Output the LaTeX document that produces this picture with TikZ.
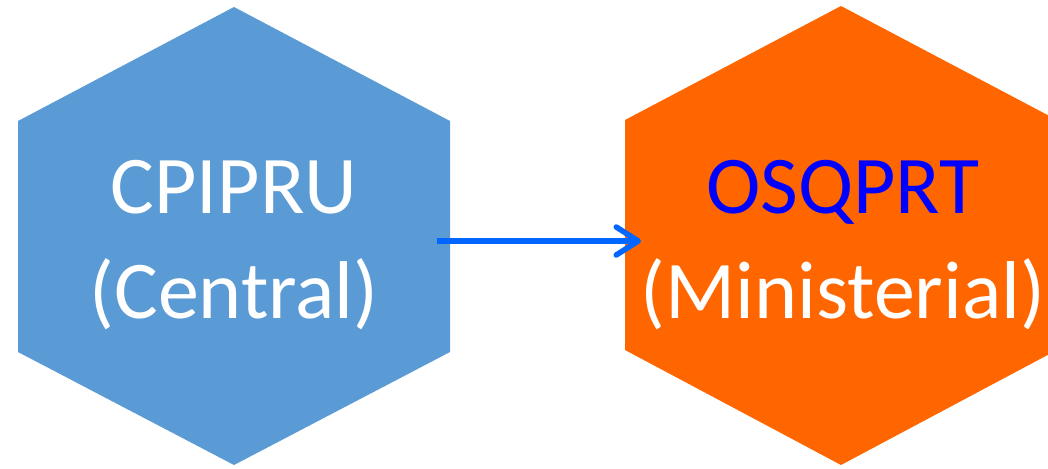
\documentclass[tikz,border=0pt]{standalone}
\usepackage{fontspec}
\setmainfont{Carlito}
\usetikzlibrary{arrows.meta}
\definecolor{hexblue}{HTML}{5B9BD5}
\definecolor{hexorange}{HTML}{FF6600}
\definecolor{arrowblue}{HTML}{0066FF}
\definecolor{textblue}{HTML}{0000FF}
\tikzset{
  hexfill/.style={fill=#1, draw=none},
  label/.style={font=\fontsize{82}{100}\selectfont, text=white, inner sep=0pt, anchor=base},
  link/.style={draw=arrowblue, line width=5.5pt, -{Straight Barb[length=22pt, width=28pt, line width=5.5pt, line cap=round, line join=round]}}
}
\begin{document}
\begin{tikzpicture}[x=1pt, y=-1pt]
\useasboundingbox (0,0) rectangle (1048,468);
\clip (0,0) rectangle (1048,468);
% left hexagon
\fill[hexfill=hexblue] (234,7) -- (450,121) -- (450,352) -- (234,465) -- (18,352) -- (18,121) -- cycle;
% right hexagon
\fill[hexfill=hexorange] (841,6) -- (1057,120) -- (1057,350) -- (841,465) -- (625,350) -- (625,120) -- cycle;
\node[label] (l1) at (234,213) {CPIPRU};
\node[label] (l2) at (234,318) {(Central)};
\node[label, text=textblue] (r1) at (843,213) {OSQPRT};
\node[label] (r2) at (843,318) {(Ministerial)};
\coordinate (a) at (437,241);
\coordinate (b) at (641,241);
\draw[link] (a) -- (b);
\end{tikzpicture}
\end{document}
